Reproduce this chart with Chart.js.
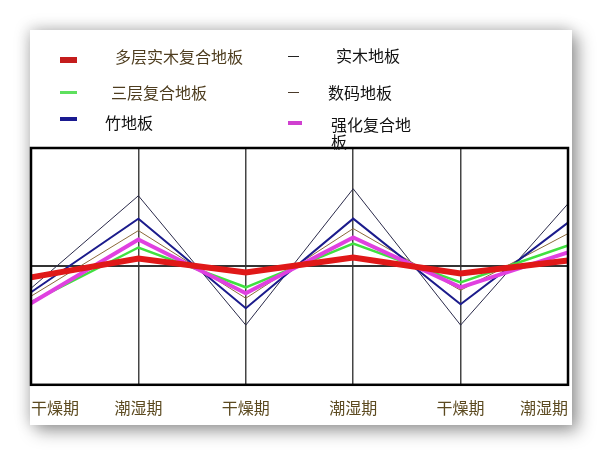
<!DOCTYPE html>
<html><head><meta charset="utf-8">
<script src="https://cdn.jsdelivr.net/npm/chart.js@4.4.1/dist/chart.umd.min.js"></script>
<style>
html,body{margin:0;padding:0;background:#fff;width:602px;height:456px;overflow:hidden;}
#card{position:absolute;left:30px;top:30px;width:542px;height:395px;background:#fff;box-shadow:6px 6px 16px rgba(0,0,0,0.38),-2px -2px 14px rgba(0,0,0,0.18);}
#c{position:absolute;left:0;top:0;}
.lg{position:absolute;font-family:"Noto Sans CJK SC",sans-serif;font-size:16px;line-height:17px;white-space:nowrap;}
.sw{position:absolute;}
</style></head><body>
<div id="card"></div>
<canvas id="c" width="602" height="456"></canvas>
<div class="sw" style="left:60px;top:57px;width:17px;height:6px;background:#c41c1c"></div>
<div class="lg" style="left:115px;top:48px;color:#4e3d1f">多层实木复合地板</div>
<div class="sw" style="left:288px;top:56px;width:11px;height:1px;background:#222"></div>
<div class="lg" style="left:336px;top:47px;color:#111">实木地板</div>
<div class="sw" style="left:60px;top:91px;width:17px;height:3px;background:#5ee05e"></div>
<div class="lg" style="left:111px;top:84px;color:#4e3d1f">三层复合地板</div>
<div class="sw" style="left:288px;top:92px;width:11px;height:1px;background:#4a3a2a"></div>
<div class="lg" style="left:328px;top:84px;color:#111">数码地板</div>
<div class="sw" style="left:60px;top:117px;width:17px;height:4px;background:#1a1a90"></div>
<div class="lg" style="left:105px;top:114px;color:#111">竹地板</div>
<div class="sw" style="left:288px;top:121px;width:14px;height:4px;background:#d040d0"></div>
<div class="lg" style="left:331px;top:116px;color:#111;white-space:normal;width:82px">强化复合地板</div>
<script>
const categories = ["干燥期","潮湿期","干燥期","潮湿期","干燥期","潮湿期"];
const multiLayer = [-11, 8, -6, 9, -7, 6];      // 多层实木复合地板
const solidWood  = [-22, 71, -59, 78, -59, 63]; // 实木地板
const threeLayer = [-36, 19, -21, 23, -16, 21]; // 三层复合地板
const digital    = [-30, 36, -32, 38, -24, 33]; // 数码地板
const bamboo     = [-26, 48, -42, 48, -38, 44]; // 竹地板
const laminate   = [-37, 27, -27, 29, -21, 14]; // 强化复合地板

const boxPlugin = {
  id:'box',
  afterDraw(chart){
    const a = chart.chartArea, ctx = chart.ctx;
    ctx.save();
    ctx.strokeStyle = '#000';
    ctx.lineWidth = 2.5;
    ctx.strokeRect(a.left, a.top, a.right - a.left, a.bottom - a.top);
    ctx.restore();
  }
};

const ds = (label, data, color, w) => ({label, data, borderColor:color, backgroundColor:color, borderWidth:w, pointRadius:0, tension:0, fill:false});

new Chart(document.getElementById('c'), {
  type:'line',
  data:{
    labels: categories,
    datasets:[
      ds('多层实木复合地板', multiLayer, '#e01818', 6),
      ds('强化复合地板', laminate, '#e040e0', 4),
      ds('三层复合地板', threeLayer, '#40e040', 2.5),
      ds('竹地板', bamboo, '#1c1c8c', 2),
      ds('数码地板', digital, '#8a6a3a', 1),
      ds('实木地板', solidWood, '#2a2a4a', 1)
    ]
  },
  options:{
    responsive:false,
    animation:false,
    layout:{padding:{left:31, top:148, right:34, bottom:24}},
    plugins:{legend:{display:false}, tooltip:{enabled:false}},
    scales:{
      x:{
        offset:false,
        border:{display:false},
        grid:{color:'#444', lineWidth:1.5, drawTicks:false},
        ticks:{align:'inner', padding:14, color:'#5c4a20', maxRotation:0, autoSkip:false,
               font:{family:'"Noto Sans CJK SC", sans-serif', size:16}}
      },
      y:{
        min:-119, max:119,
        border:{display:false},
        ticks:{display:false, stepSize:119},
        grid:{drawTicks:false, lineWidth:2, color:(c)=> c.tick && c.tick.value===0 ? '#333' : 'rgba(0,0,0,0)'}
      }
    }
  },
  plugins:[boxPlugin]
});
</script>
</body></html>
